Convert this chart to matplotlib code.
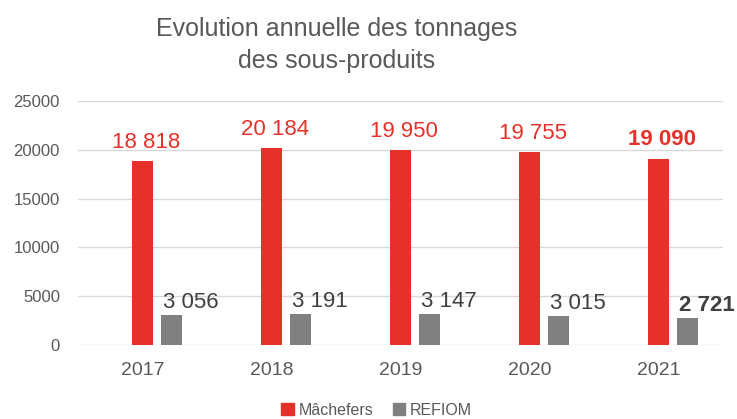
import matplotlib
matplotlib.use("Agg")
import matplotlib.pyplot as plt
import numpy as np
from matplotlib.patches import Patch

years = ["2017", "2018", "2019", "2020", "2021"]
machefers = [18818, 20184, 19950, 19755, 19090]
refiom = [3056, 3191, 3147, 3015, 2721]
yticks = [0, 5000, 10000, 15000, 20000, 25000]

RED = "#E5312A"
GREY = "#808080"
TXT = "#595959"

plt.rcParams['font.family'] = ['Liberation Sans', 'DejaVu Sans']

fig = plt.figure(figsize=(7.37, 4.19), dpi=100)
ax = fig.add_axes([78/737, 1-345/419, 645/737, 244/419])

x = np.arange(len(years))
w = 0.17
off = 0.225
ax.bar(x, machefers, width=w, color=RED, zorder=3)
ax.bar(x + off, refiom, width=w, color=GREY, zorder=3)

def fmt(v):
    return f"{v:,}".replace(",", " ")

for i, (m, r) in enumerate(zip(machefers, refiom)):
    bold = 'bold' if i == len(years) - 1 else 'normal'
    ax.annotate(fmt(m), (x[i] + 0.027, m), xytext=(0, 9.5), textcoords='offset points',
                ha='center', va='baseline', color=RED, fontsize=16, fontweight=bold)
    ax.annotate(fmt(r), (x[i] + off + 0.147, r), xytext=(0, 5), textcoords='offset points',
                ha='center', va='baseline', color="#404040", fontsize=16, fontweight=bold)

ax.set_xlim(-0.5, len(years) - 0.5)
ax.set_ylim(0, 25000)
ax.set_yticks(yticks)
ax.set_yticklabels([str(t) for t in yticks])
ax.set_xticks(x)
ax.set_xticklabels(years)
ax.tick_params(axis='both', length=0, colors=TXT)
ax.tick_params(axis='y', pad=13, labelsize=12)
ax.tick_params(axis='x', pad=12, labelsize=14)
ax.grid(axis='y', color="#D9D9D9", linewidth=1, zorder=0)
for s in ax.spines.values():
    s.set_visible(False)

fig.text(337/737, 1-45/419, "Evolution annuelle des tonnages\ndes sous-produits", ha='center',
         va='center', fontsize=18, color=TXT, linespacing=1.45)

handles = [Patch(color=RED, label="Mâchefers"), Patch(color=GREY, label="REFIOM")]
fig.legend(handles=handles, loc='center', bbox_to_anchor=(0.511, 1-410/419), ncol=2,
           frameon=False, fontsize=11.5, handlelength=0.8, handleheight=0.8,
           handletextpad=0.3, columnspacing=1.2, labelcolor=TXT)

fig.savefig("out.png", dpi=100)
